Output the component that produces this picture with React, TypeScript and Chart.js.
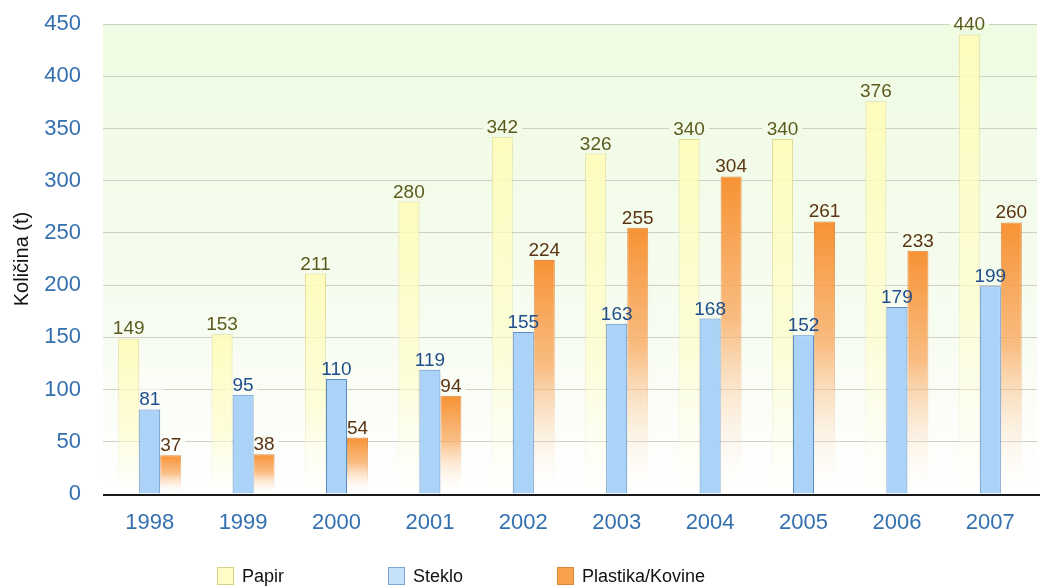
import React, { useEffect, useRef } from "react";
import { Chart, registerables } from "chart.js";

Chart.register(...registerables);

const years = ["1998", "1999", "2000", "2001", "2002", "2003", "2004", "2005", "2006", "2007"];
const papir = [149, 153, 211, 280, 342, 326, 340, 340, 376, 440];
const steklo = [81, 95, 110, 119, 155, 163, 168, 152, 179, 199];
const plastika = [37, 38, 54, 94, 224, 255, 304, 261, 233, 260];
const seriesNames = ["Papir", "Steklo", "Plastika/Kovine"];
const labelColors = ["#5c5a1e", "#1f4e8a", "#5a3414"];

const FONT = "'Liberation Sans', Arial, sans-serif";
const LABEL_SIZE = 19;

// vertical gradient spanning one bar, from its top down to the zero line
function barGradient(ctx: any, stops: [number, string][], fallback: string) {
  const chart = ctx.chart;
  if (!chart.chartArea || ctx.type !== "data") return fallback;
  const y = chart.scales.y;
  const top = y.getPixelForValue(ctx.raw);
  const bottom = y.getPixelForValue(0);
  if (!isFinite(top) || bottom - top < 1) return fallback;
  const g = chart.ctx.createLinearGradient(0, top, 0, bottom);
  stops.forEach(([o, c]) => g.addColorStop(o, c));
  return g;
}

function plotGradient(chart: any) {
  const a = chart.chartArea;
  const g = chart.ctx.createLinearGradient(0, a.top, 0, a.bottom);
  g.addColorStop(0, "#effbe2");
  g.addColorStop(0.6, "#f6fcef");
  g.addColorStop(1, "#ffffff");
  return g;
}

const plotBackground = {
  id: "plotBackground",
  beforeDraw(chart: any) {
    const { ctx, chartArea: a } = chart;
    ctx.save();
    ctx.fillStyle = plotGradient(chart);
    ctx.fillRect(a.left, a.top, a.right - a.left, a.bottom - a.top);
    ctx.restore();
  },
};

function eachLabel(chart: any, fn: (text: string, x: number, y: number, di: number) => void) {
  chart.data.datasets.forEach((ds: any, di: number) => {
    const meta = chart.getDatasetMeta(di);
    meta.data.forEach((bar: any, i: number) => {
      fn(String(ds.data[i]), bar.x, bar.y - 4, di);
    });
  });
}

const valueLabels = {
  id: "valueLabels",
  // clear the gridlines behind each label, underneath the bars
  beforeDatasetsDraw(chart: any) {
    const { ctx, chartArea: a } = chart;
    ctx.save();
    ctx.beginPath();
    ctx.rect(a.left, a.top, a.right - a.left, a.bottom - a.top);
    ctx.clip();
    ctx.font = `${LABEL_SIZE}px ${FONT}`;
    ctx.fillStyle = plotGradient(chart);
    eachLabel(chart, (text, x, y) => {
      const w = ctx.measureText(text).width;
      ctx.fillRect(x - w / 2 - 4, y - 16, w + 8, 15);
    });
    ctx.restore();
  },
  afterDatasetsDraw(chart: any) {
    const ctx = chart.ctx;
    ctx.save();
    ctx.font = `${LABEL_SIZE}px ${FONT}`;
    ctx.textAlign = "center";
    ctx.textBaseline = "alphabetic";
    eachLabel(chart, (text, x, y, di) => {
      ctx.fillStyle = labelColors[di];
      ctx.fillText(text, x, y);
    });
    ctx.restore();
  },
};

const bottomAxisLine = {
  id: "bottomAxisLine",
  afterDatasetsDraw(chart: any) {
    const { ctx, chartArea: a } = chart;
    ctx.save();
    ctx.strokeStyle = "#1a1a1a";
    ctx.lineWidth = 2;
    ctx.beginPath();
    ctx.moveTo(a.left, a.bottom + 1);
    ctx.lineTo(a.right + 3, a.bottom + 1);
    ctx.stroke();
    ctx.restore();
  },
};

const legendItems = [
  { name: seriesNames[0], x: 217, fill: "#fffcc8", border: "#d6d28a" },
  { name: seriesNames[1], x: 388, fill: "#c6e1fb", border: "#7ba6d6" },
  { name: seriesNames[2], x: 557, fill: "#f8a24c", border: "#d88836" },
];

export default function App() {
  const canvasRef = useRef<HTMLCanvasElement>(null);

  useEffect(() => {
    const chart = new Chart(canvasRef.current!, {
      type: "bar",
      data: {
        labels: years,
        datasets: [
          {
            label: seriesNames[0],
            data: papir,
            backgroundColor: (c: any) =>
              barGradient(c, [[0, "rgba(255,252,185,0.9)"], [0.6, "rgba(255,253,200,0.65)"], [1, "rgba(255,255,240,0.1)"]], "#fffcc8"),
            borderColor: (c: any) =>
              barGradient(c, [[0, "rgba(222,216,140,0.9)"], [0.7, "rgba(230,226,170,0.5)"], [1, "rgba(240,240,210,0.1)"]], "#d6d28a"),
            borderWidth: 1,
          },
          {
            label: seriesNames[1],
            data: steklo,
            backgroundColor: "#abd3f8",
            borderColor: "#5b8cc4",
            borderWidth: 1,
          },
          {
            label: seriesNames[2],
            data: plastika,
            backgroundColor: (c: any) =>
              barGradient(c, [[0, "rgba(247,146,52,1)"], [0.45, "rgba(249,172,100,0.8)"], [1, "rgba(255,250,245,0)"]], "#f8a24c"),
            borderColor: (c: any) =>
              barGradient(c, [[0, "rgba(220,125,45,0.9)"], [0.6, "rgba(235,160,100,0.5)"], [1, "rgba(255,240,230,0)"]], "#d88836"),
            borderWidth: 1,
          },
        ],
      },
      options: {
        animation: false,
        responsive: false,
        layout: { padding: { top: 24, right: 7, left: 6, bottom: 0 } },
        datasets: {
          bar: { categoryPercentage: 0.675, barPercentage: 1 },
        },
        plugins: {
          legend: { display: false },
          tooltip: { enabled: false },
        },
        scales: {
          x: {
            grid: { display: false },
            border: { display: false },
            ticks: { color: "#3470b0", font: { family: FONT, size: 22 }, padding: 8 },
            afterFit: (s: any) => {
              s.height = 94;
              s.paddingLeft = 0;
              s.paddingRight = 0;
            },
          },
          y: {
            min: 0,
            max: 450,
            ticks: {
              stepSize: 50,
              color: "#3470b0",
              font: { family: FONT, size: 22 },
              padding: 22,
            },
            grid: { color: "#cfcfc6", lineWidth: 1, drawTicks: false },
            border: { display: false },
            title: {
              display: true,
              text: "Količina (t)",
              color: "#111",
              font: { family: FONT, size: 20 },
              padding: { top: 4, bottom: 0 },
            },
            afterFit: (s: any) => {
              s.width = 97;
              s.paddingTop = 0;
              s.paddingBottom = 0;
            },
          },
        },
      },
      plugins: [plotBackground, bottomAxisLine, valueLabels],
    });
    return () => chart.destroy();
  }, []);

  return (
    <div style={{ position: "fixed", left: 0, top: 0, width: 1044, height: 588, background: "#fff" }}>
      <canvas ref={canvasRef} width={1044} height={588} style={{ display: "block" }} />
      {legendItems.map((it) => (
        <div
          key={it.name}
          style={{
            position: "absolute",
            left: it.x,
            top: 567,
            display: "flex",
            alignItems: "center",
            fontFamily: FONT,
            fontSize: 18,
            color: "#111",
            lineHeight: "18px",
          }}
        >
          <span
            style={{
              display: "inline-block",
              width: 15,
              height: 16,
              background: it.fill,
              border: `1px solid ${it.border}`,
              marginRight: 8,
            }}
          />
          <span>{it.name}</span>
        </div>
      ))}
    </div>
  );
}
